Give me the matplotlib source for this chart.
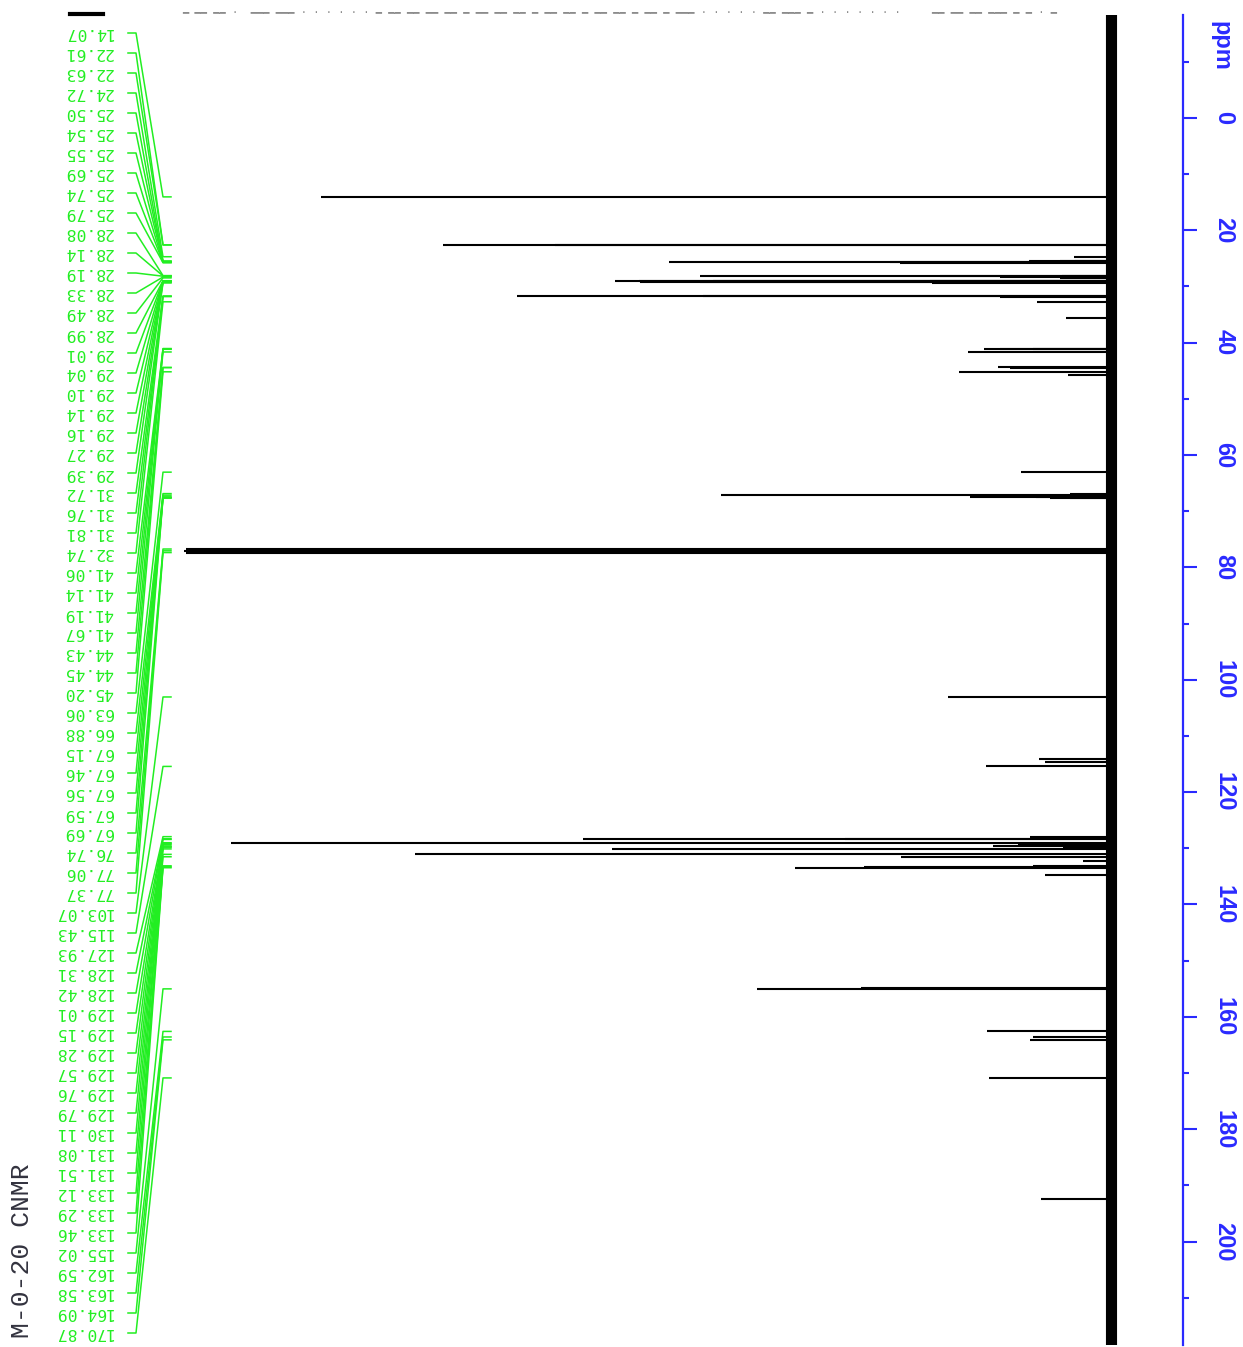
import matplotlib
matplotlib.use("Agg")
import matplotlib.pyplot as plt
from matplotlib.lines import Line2D

# picked peaks (ppm) with heights relative to the CDCl3 triplet (=100)
label_ppm = [14.07, 22.61, 22.63, 24.72, 25.50, 25.54, 25.55, 25.69, 25.74, 25.79,
             28.08, 28.14, 28.19, 28.33, 28.49, 28.99, 29.01, 29.04, 29.10, 29.14,
             29.16, 29.27, 29.39, 31.72, 31.76, 31.81, 32.74, 41.06, 41.14, 41.19,
             41.67, 44.43, 44.45, 45.20, 63.06, 66.88, 67.15, 67.46, 67.56, 67.59,
             67.69, 76.74, 77.06, 77.37, 103.07, 115.43, 127.93, 128.31, 128.42, 129.01,
             129.15, 129.28, 129.57, 129.76, 129.79, 130.11, 131.08, 131.51, 133.12, 133.29,
             133.46, 155.02, 162.59, 163.58, 164.09, 170.87]
label_height = [85.2, 72.1, 60.0, 4.0, 8.8, 5.5, 3.9, 23.8, 47.7, 22.8,
                5.3, 18.4, 44.3, 12.0, 5.5, 19.5, 50.9, 42.9, 53.5, 50.8,
                44.3, 7.7, 19.3, 64.1, 44.0, 12.0, 8.0, 8.4, 13.7, 12.0,
                15.4, 12.2, 10.9, 16.4, 9.7, 4.4, 42.1, 15.2, 8.1, 6.6,
                4.4, 99.8, 100.0, 99.8, 17.6, 13.5, 8.7, 57.0, 28.7, 94.9,
                10.0, 8.0, 12.7, 5.2, 5.2, 53.8, 75.1, 22.7, 8.4, 26.6,
                34.1, 38.2, 13.4, 8.4, 8.7, 13.2]

# small peaks left without a label
extra_ppm = [35.7, 45.8, 114.05, 114.6, 132.3, 134.7, 154.9, 192.4]
extra_height = [4.9, 4.6, 7.8, 7.1, 3.0, 7.1, 27.0, 7.6]

ppm_major = list(range(0, 201, 20))
ppm_minor = list(range(-10, 211, 20))
sample_name = "M-0-20 CNMR"

W, H = 1243, 1347
BLUE = "#2a2aff"
GREEN = "#22ee22"


def fx(px):
    return px / W


def fy(py):
    return 1 - py / H


fig = plt.figure(figsize=(W / 100, H / 100), dpi=100)
ax = fig.add_axes([0, fy(1345), fx(1183), fy(15) - fy(1345)])
ax.set_ylim(218.4, -18.3)
ax.set_xlim(119.85, -7.77)

# spectrum: noise band as a heavy baseline, peaks as sticks out of it
ax.axvline(0, color="black", lw=8.0, zorder=2)
ax.hlines(label_ppm + extra_ppm, 0, label_height + extra_height,
          color="black", lw=1.5, zorder=3)

for side in ["top", "left", "bottom"]:
    ax.spines[side].set_visible(False)
ax.spines["right"].set_color(BLUE)
ax.spines["right"].set_linewidth(1.6)
ax.set_xticks([])
ax.yaxis.tick_right()
ax.set_yticks(ppm_major)
ax.set_yticks(ppm_minor, minor=True)
ax.tick_params(axis="y", which="major", length=10, width=1.5, color=BLUE,
               labelcolor=BLUE, labelsize=17, pad=11, labelrotation=-90)
ax.tick_params(axis="y", which="minor", length=4, width=1.5, color=BLUE)
for t in ax.get_yticklabels():
    t.set_fontweight("bold")
    t.set_family("Liberation Sans")
    t.set_va("center")

fig.text(fx(1221), fy(46), "ppm", rotation=-90, ha="center", va="center",
         color=BLUE, fontsize=17, fontweight="bold", family="Liberation Sans")

# peak labels with leader lines down to each peak
to_fig = ax.transData + fig.transFigure.inverted()
for i, p in enumerate(label_ppm):
    ly = fy(33 + 20 * i)
    py = to_fig.transform((0, p))[1]
    fig.add_artist(Line2D([fx(128), fx(136), fx(163), fx(171)], [ly, ly, py, py],
                          color=GREEN, lw=1.1))
    fig.text(fx(113), ly, f"{p:.2f}", rotation=180, ha="right", va="center",
             family="DejaVu Sans Mono", fontsize=11.8, color=GREEN)

fig.text(fx(22), fy(1251), sample_name, rotation=90, ha="center", va="center",
         family=["Liberation Mono", "DejaVu Sans Mono"], fontsize=19, color="#33333f")

# clipped header strip along the top edge
fig.add_artist(Line2D([fx(70), fx(103)], [fy(14), fy(14)], color="black", lw=3))
strip = ("━ ━━ ━━ ·  ━━━ ━━━ · · · · · · ━ ━━ ━━ ━━ ━━ ━ ━━ ━━ ━━ ━ ━━ ━━ ━ ━━ ━━ "
         "━ ━━ ━ ━━━ · · · · · ━━ ━━━ ━ · · · · · · ·     ━━ ━━ ━━ ━━━ ━ ━ · ━")
fig.text(fx(182), fy(13), strip, family="DejaVu Sans Mono", fontsize=7.5,
         color="#8c8c8c", va="center", ha="left")

fig.savefig("out.png", dpi=100)
